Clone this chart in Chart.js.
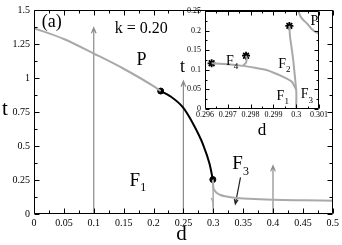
<!DOCTYPE html>
<html>
<head>
<meta charset="utf-8">
<script src="https://cdn.jsdelivr.net/npm/chart.js@4.4.1/dist/chart.umd.min.js"></script>
<style>
  html, body { margin: 0; padding: 0; background: #fff; }
  #wrap { position: relative; width: 342px; height: 245px; }
  #main { position: absolute; left: 0; top: 0; }
  #inset { position: absolute; left: 170px; top: 0; }
</style>
</head>
<body>
<div id="wrap">
  <canvas id="main" width="342" height="245"></canvas>
  <canvas id="inset" width="172" height="140"></canvas>
</div>
<script>
// main panel (k = 0.20)
const pD = [0, 0.05, 0.1, 0.15, 0.2, 0.212]
const pT = [1.367, 1.287, 1.18, 1.068, 0.94, 0.904]
const blackD = [0.212, 0.227, 0.249, 0.266, 0.283, 0.294, 0.2993]
const blackT = [0.904, 0.869, 0.785, 0.665, 0.51, 0.366, 0.253]
const f3D = [0.2993, 0.3, 0.302, 0.306, 0.312, 0.32, 0.335, 0.36, 0.4, 0.45, 0.5]
const f3T = [0.253, 0.2, 0.175, 0.155, 0.14, 0.13, 0.12, 0.112, 0.105, 0.101, 0.098]
const dotD = [0.212, 0.2993]
const dotT = [0.904, 0.253]
const arrowD = [0.1, 0.25, 0.4]
const arrowTopT = [1.37, 0.977, 0.354]
const pointerD = [0.3456, 0.337]
const pointerT = [0.27, 0.074]

const mainXTicks = [0, 0.05, 0.1, 0.15, 0.2, 0.25, 0.3, 0.35, 0.4, 0.45, 0.5]
const mainXLabels = ['0', '0.05', '0.1', '0.15', '0.2', '0.25', '0.3', '0.35', '0.4', '0.45', '0.5']
const mainYTicks = [0, 0.25, 0.5, 0.75, 1, 1.25, 1.5]
const mainYLabels = ['0', '0.25', '0.5', '0.75', '1', '1.25', '1.5']

// inset, zoom around d = 0.3
const f1D = [0.29629, 0.297, 0.29765, 0.2982, 0.2987, 0.29943, 0.2998, 0.3, 0.3]
const f1T = [0.1166, 0.114, 0.11, 0.105, 0.0995, 0.082, 0.07, 0.048, 0]
const f4D = [0.29765, 0.2978, 0.29783, 0.2978]
const f4T = [0.11, 0.118, 0.128, 0.136]
const f2D = [0.2997, 0.29973, 0.2998, 0.29987, 0.29993, 0.3]
const f2T = [0.212, 0.184, 0.155, 0.125, 0.09, 0.048]
const pInD = [0.30009, 0.3002, 0.30046, 0.3007, 0.30097, 0.301]
const pInT = [0.25, 0.235, 0.219, 0.203, 0.193, 0.192]
const starD = [0.29629, 0.2978, 0.2997]
const starT = [0.1166, 0.136, 0.212]

const insetXTicks = [0.296, 0.297, 0.298, 0.299, 0.3, 0.301]
const insetXLabels = ['0.296', '0.297', '0.298', '0.299', '0.3', '0.301']
const insetYTicks = [0, 0.05, 0.1, 0.15, 0.2, 0.25]
const insetYLabels = ['0', '0.05', '0.1', '0.15', '0.2', '0.25']

const serif = '"Liberation Serif", "Times New Roman", Times, serif'
const gray = '#a9a9a9'
const arrowGray = '#8a8a8a'

function curve(xs, ys) {
  return xs.map((x, i) => ({ x: x, y: ys[i] }))
}

// smooth curves where d only grows, plain polyline otherwise
function line(data, color, width, smooth) {
  const ds = { data: data, showLine: true, borderColor: color, borderWidth: width,
    pointRadius: 0, fill: false, tension: smooth ? 0 : 0.15 }
  if (smooth) ds.cubicInterpolationMode = 'monotone'
  return ds
}

function drawArrow(ctx, x1, y1, x2, y2, color, head) {
  const ang = Math.atan2(y2 - y1, x2 - x1)
  ctx.save()
  ctx.strokeStyle = color
  ctx.lineWidth = 1.2
  ctx.beginPath()
  ctx.moveTo(x1, y1)
  ctx.lineTo(x2, y2)
  ctx.moveTo(x2 - head * Math.cos(ang - 0.4), y2 - head * Math.sin(ang - 0.4))
  ctx.lineTo(x2, y2)
  ctx.lineTo(x2 - head * Math.cos(ang + 0.4), y2 - head * Math.sin(ang + 0.4))
  ctx.stroke()
  ctx.restore()
}

function drawLabel(ctx, x, y, text, sub, size) {
  ctx.save()
  ctx.fillStyle = '#000'
  ctx.textBaseline = 'alphabetic'
  ctx.textAlign = 'left'
  ctx.font = size + 'px ' + serif
  ctx.fillText(text, x, y)
  if (sub) {
    const w = ctx.measureText(text).width
    ctx.font = Math.round(size * 0.65) + 'px ' + serif
    ctx.fillText(sub, x + w, y + size * 0.3)
  }
  ctx.restore()
}

function drawFrame(chart, xMajor, yMajor, major, minor) {
  const { ctx, chartArea: a, scales: { x, y } } = chart
  const L = Math.round(a.left) + 0.5, R = Math.round(a.right) - 0.5
  const T = Math.round(a.top) + 0.5, B = Math.round(a.bottom) - 0.5
  ctx.save()
  ctx.strokeStyle = '#000'
  ctx.lineWidth = 1
  ctx.beginPath()
  ctx.rect(L, T, R - L, B - T)
  const xt = (v, len) => {
    const px = Math.round(x.getPixelForValue(v)) + 0.5
    ctx.moveTo(px, B); ctx.lineTo(px, B - len)
    ctx.moveTo(px, T); ctx.lineTo(px, T + len)
  }
  const yt = (v, len) => {
    const py = Math.round(y.getPixelForValue(v)) + 0.5
    ctx.moveTo(L, py); ctx.lineTo(L + len, py)
    ctx.moveTo(R, py); ctx.lineTo(R - len, py)
  }
  xMajor.forEach((v, i) => {
    xt(v, major)
    if (i < xMajor.length - 1) xt((v + xMajor[i + 1]) / 2, minor)
  })
  yMajor.forEach((v, i) => {
    yt(v, major)
    if (i < yMajor.length - 1) yt((v + yMajor[i + 1]) / 2, minor)
  })
  ctx.stroke()
  ctx.restore()
}

const mainDecor = {
  id: 'mainDecor',
  beforeDatasetsDraw(chart) {
    const { ctx, scales: { x, y } } = chart
    arrowD.forEach((d, i) => {
      drawArrow(ctx, x.getPixelForValue(d), y.getPixelForValue(0),
        x.getPixelForValue(d), y.getPixelForValue(arrowTopT[i]), arrowGray, 6)
    })
    drawArrow(ctx, x.getPixelForValue(pointerD[0]), y.getPixelForValue(pointerT[0]),
      x.getPixelForValue(pointerD[1]), y.getPixelForValue(pointerT[1]), '#222', 5)
  },
  afterDatasetsDraw(chart) {
    const { ctx, chartArea: a, scales: { x, y } } = chart
    drawFrame(chart, mainXTicks, mainYTicks, 5, 3)
    const at = (d, t, text, sub, size) => drawLabel(ctx, x.getPixelForValue(d), y.getPixelForValue(t), text, sub, size)
    at(0.0129, 1.374, '(a)', '', 18)
    at(0.135, 1.331, 'k = 0.20', '', 16)
    at(0.1715, 1.096, 'P', '', 18)
    at(0.160, 0.208, 'F', '1', 19)
    at(0.332, 0.328, 'F', '3', 19)
    // axis titles
    drawLabel(ctx, a.left - 32, (a.top + a.bottom) / 2 + 3, 't', '', 21)
    ctx.save()
    ctx.font = '21px ' + serif
    ctx.fillStyle = '#000'
    ctx.textAlign = 'center'
    ctx.fillText('d', (a.left + a.right) / 2 - 2, a.bottom + 26)
    ctx.restore()
  }
}

const insetDecor = {
  id: 'insetDecor',
  beforeDraw(chart) {
    const { ctx, chartArea: a } = chart
    ctx.save()
    ctx.fillStyle = '#fff'
    ctx.fillRect(a.left, a.top, a.right - a.left, a.bottom - a.top)
    ctx.restore()
  },
  afterDatasetsDraw(chart) {
    const { ctx, chartArea: a, scales: { x, y } } = chart
    drawFrame(chart, insetXTicks, insetYTicks, 4, 2)
    const at = (d, t, text, sub, size) => drawLabel(ctx, x.getPixelForValue(d), y.getPixelForValue(t), text, sub, size)
    at(0.29692, 0.112, 'F', '4', 14)
    at(0.29921, 0.104, 'F', '2', 14)
    at(0.29914, 0.023, 'F', '1', 14)
    at(0.3002, 0.027, 'F', '3', 14)
    at(0.30063, 0.214, 'P', '', 14)
    drawLabel(ctx, a.left - 25, (a.top + a.bottom) / 2 + 12, 't', '', 18)
    ctx.save()
    ctx.font = '17px ' + serif
    ctx.fillStyle = '#000'
    ctx.textAlign = 'center'
    ctx.fillText('d', (a.left + a.right) / 2, a.bottom + 26)
    ctx.restore()
  }
}

function axes(xMin, xMax, yMin, yMax, xTicks, xLabels, yTicks, yLabels, yWidth, xHeight, fontSize, xPad) {
  const tickFont = { family: serif, size: fontSize }
  return {
    x: {
      type: 'linear', min: xMin, max: xMax,
      grid: { display: false, drawTicks: false }, border: { display: false },
      afterBuildTicks: s => { s.ticks = xTicks.map(v => ({ value: v })) },
      afterFit: s => { s.height = xHeight },
      ticks: { font: tickFont, color: '#000', padding: xPad, maxRotation: 0, autoSkip: false,
        callback: (v, i) => xLabels[i] }
    },
    y: {
      type: 'linear', min: yMin, max: yMax,
      grid: { display: false, drawTicks: false }, border: { display: false },
      afterBuildTicks: s => { s.ticks = yTicks.map(v => ({ value: v })) },
      afterFit: s => { s.width = yWidth },
      ticks: { font: tickFont, color: '#000', padding: 4, autoSkip: false,
        callback: (v, i) => yLabels[i] }
    }
  }
}

const common = {
  responsive: false,
  animation: false,
  events: [],
  plugins: { legend: { display: false }, tooltip: { enabled: false } }
}

new Chart(document.getElementById('main'), {
  type: 'scatter',
  data: {
    datasets: [
      line(curve(pD, pT), gray, 2, true),
      line(curve(f3D, f3T), gray, 2, true),
      line(curve(f1D, f1T), gray, 1.5, false),
      line(curve(f2D, f2T), gray, 1.5, false),
      line(curve(blackD, blackT), '#000', 2, true),
      { data: curve(dotD, dotT), pointRadius: 3, backgroundColor: '#000', borderColor: '#000' }
    ]
  },
  options: Object.assign({}, common, {
    layout: { padding: { top: 5, right: 8, left: 0, bottom: 0 } },
    scales: axes(0, 0.5, 0, 1.5, mainXTicks, mainXLabels, mainYTicks, mainYLabels, 34, 31, 10, 3)
  }),
  plugins: [mainDecor]
})

new Chart(document.getElementById('inset'), {
  type: 'scatter',
  data: {
    datasets: [
      line(curve(f1D, f1T), gray, 2, false),
      line(curve(f4D, f4T), gray, 2, false),
      line(curve(f2D, f2T), gray, 2, false),
      line(curve(pInD, pInT), gray, 2, true),
      { data: curve(starD, starT), pointStyle: 'star', pointRadius: 4, borderWidth: 1.8,
        borderColor: '#000', backgroundColor: '#000' }
    ]
  },
  options: Object.assign({}, common, {
    layout: { padding: { top: 11, right: 23, left: 0, bottom: 0 } },
    scales: axes(0.296, 0.301, 0, 0.25, insetXTicks, insetXLabels, insetYTicks, insetYLabels, 35, 31, 8, 1)
  }),
  plugins: [insetDecor]
})
</script>
</body>
</html>
